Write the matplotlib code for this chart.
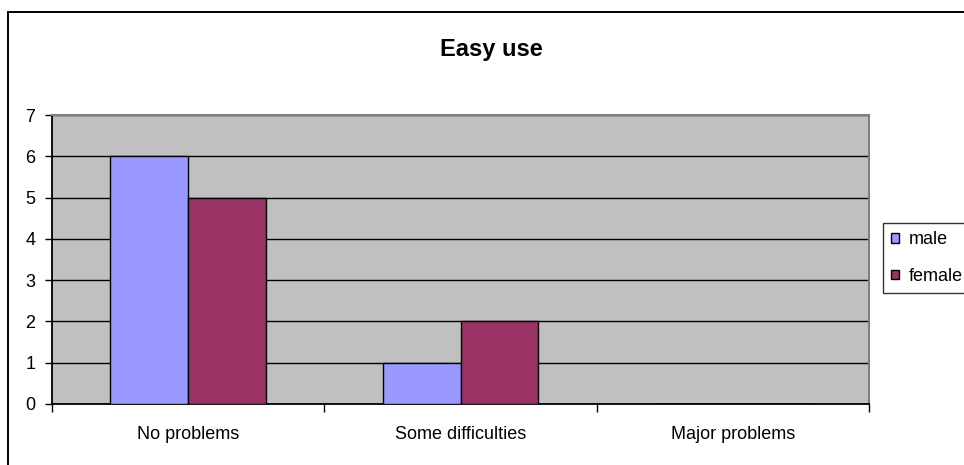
import matplotlib
matplotlib.use("Agg")
import matplotlib.pyplot as plt
from matplotlib.patches import Rectangle
import numpy as np

plt.rcParams['font.family'] = ['Liberation Sans', 'DejaVu Sans']

categories = ["No problems", "Some difficulties", "Major problems"]
male = [6, 1, 0]
female = [5, 2, 0]
series_names = ["male", "female"]
colors = ["#9999FF", "#993366"]

W, H = 964, 465
fig = plt.figure(figsize=(W / 100, H / 100), dpi=100)

# outer chart frame (runs past the right and bottom edges)
fig.patches.append(Rectangle((8 / W, -0.1), 1.2, 1 - 12 / H + 0.1,
                             transform=fig.transFigure, fill=False,
                             edgecolor="black", linewidth=1.4))

ax = fig.add_axes([52 / W, 1 - 404 / H, (869 - 52) / W, (404 - 115) / H])
ax.set_facecolor("#C0C0C0")

x = np.arange(len(categories))
w = 1 / 3.5
ax.bar(x - w / 2, male, w, color=colors[0], edgecolor="black", linewidth=1, zorder=3, label=series_names[0])
ax.bar(x + w / 2, female, w, color=colors[1], edgecolor="black", linewidth=1, zorder=3, label=series_names[1])

ax.set_xlim(-0.5, len(categories) - 0.5)
ax.set_ylim(0, 7)
ax.set_yticks(range(8))
ax.yaxis.grid(True, color="black", linewidth=1, zorder=1)
ax.set_axisbelow(True)

ax.set_xticks(x)
ax.set_xticklabels(categories, fontsize=13)
ax.set_xticks(np.arange(-0.5, len(categories)), minor=True)
ax.tick_params(axis="x", which="major", length=0, pad=16)
ax.tick_params(axis="x", which="minor", length=5.5, width=1, direction="out")
ax.tick_params(axis="y", length=5, width=1, direction="out", labelsize=13, pad=7)

for s in ["top", "right"]:
    ax.spines[s].set_color("#808080")
    ax.spines[s].set_linewidth(1.5)
for s in ["left", "bottom"]:
    ax.spines[s].set_color("black")
    ax.spines[s].set_linewidth(1.3)

fig.text(491 / W, 1 - 56 / H, "Easy use", ha="center", va="baseline",
         fontsize=17, fontweight="bold")

leg = fig.legend(loc="upper left", bbox_to_anchor=(883 / W, 1 - 223 / H),
                 fontsize=13, frameon=True, fancybox=False, edgecolor="black",
                 handlelength=0.45, handleheight=0.45, handletextpad=0.55,
                 borderpad=0.45, labelspacing=1.1, borderaxespad=0)
leg.get_frame().set_linewidth(1)

fig.savefig("out.png", dpi=100)
